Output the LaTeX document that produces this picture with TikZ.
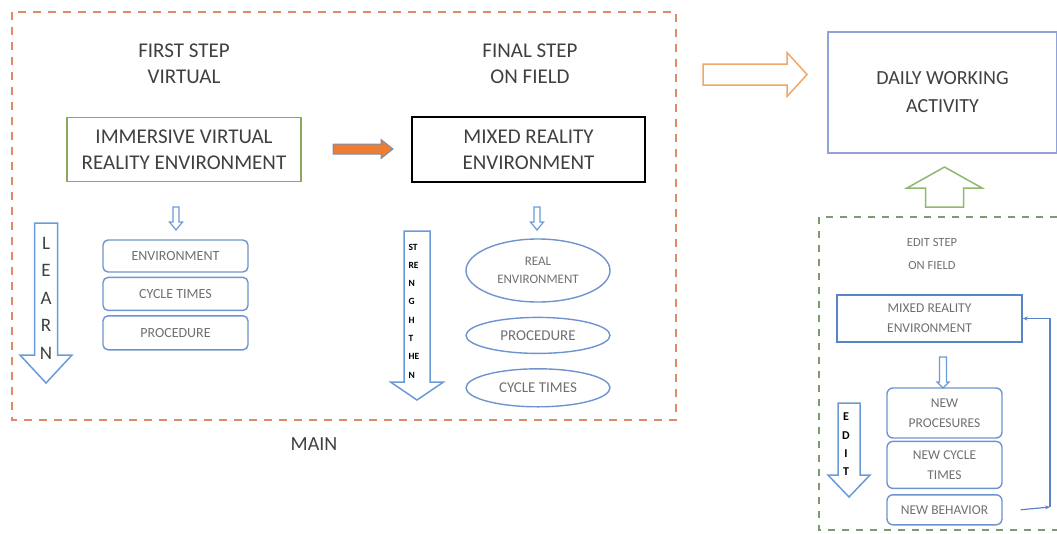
\documentclass[tikz,border=0pt]{standalone}
\usepackage{fontspec}
\setmainfont{Carlito}
\usetikzlibrary{arrows.meta,positioning,shapes.geometric}

\definecolor{mainorange}{HTML}{E3866A}
\definecolor{ivrgreen}{HTML}{8CA85A}
\definecolor{arrowblue}{HTML}{6A9BD8}
\definecolor{itemblue}{HTML}{6F93CF}
\definecolor{dwablue}{HTML}{8FA3D9}
\definecolor{mrblue}{HTML}{5A84C6}
\definecolor{editgreen}{HTML}{7F9A70}
\definecolor{orfill}{HTML}{ED7D31}
\definecolor{orborder}{HTML}{7C8DB0}
\definecolor{orline}{HTML}{F0A86A}
\definecolor{upgreen}{HTML}{8FB870}
\definecolor{textgray}{HTML}{404040}
\definecolor{smallgray}{HTML}{707070}

% block arrow, vertical: x, base y, neck y, tip y, half shaft, half head
\newcommand{\vblock}[7][]{%
  \draw[#1] ({#2-#6},#3) -- ({#2+#6},#3) -- ({#2+#6},#4) -- ({#2+#7},#4)
    -- (#2,#5) -- ({#2-#7},#4) -- ({#2-#6},#4) -- cycle;}
% block arrow, horizontal: y, base x, neck x, tip x, half shaft, half head
\newcommand{\hblock}[7][]{%
  \draw[#1] (#3,{#2-#6}) -- (#3,{#2+#6}) -- (#4,{#2+#6}) -- (#4,{#2+#7})
    -- (#5,#2) -- (#4,{#2-#7}) -- (#4,{#2-#6}) -- cycle;}

\tikzset{
  steplabel/.style={align=center, text=textgray, font=\fontsize{21}{26}\selectfont},
  stepbox/.style={draw, line width=1.5pt, minimum width=234pt, minimum height=64pt,
    inner sep=0pt, align=center, text=textgray, font=\fontsize{21}{26}\selectfont},
  itembox/.style={draw=itemblue, rounded corners=5pt, line width=1.4pt, minimum width=145pt,
    inner sep=0pt, align=center, text=smallgray, font=\fontsize{14}{18}\selectfont},
  itemoval/.style={ellipse, draw=itemblue, line width=1.4pt, minimum width=144pt,
    inner sep=0pt, align=center, text=smallgray, font=\fontsize{15}{18}\selectfont},
  editbox/.style={draw=itemblue, rounded corners=6pt, line width=1.4pt, minimum width=115pt,
    inner sep=0pt, align=center, text=smallgray, font=\fontsize{13.5}{20}\selectfont},
  hollow/.style={draw=arrowblue, line width=1.5pt, fill=white, line join=miter},
  mainframe/.style={draw=mainorange, dash pattern=on 8pt off 7pt, line width=1.5pt},
  editframe/.style={draw=editgreen, dash pattern=on 7pt off 7pt, line width=1.8pt},
  fbline/.style={draw=mrblue, line width=1.2pt, -{Stealth[length=5pt,width=4pt]}}
}

\begin{document}
\begin{tikzpicture}[x=1pt,y=-1pt]
  \useasboundingbox (0,0) rectangle (1057,533);

  % main frame
  \draw[mainframe] (12,12) rectangle (676,420);
  \node[font=\fontsize{20}{24}\selectfont, text=textgray] (mainlbl) at (314,444) {MAIN};

  % first step
  \node[steplabel] (first) at (184,64) {FIRST STEP\\VIRTUAL};
  \node[stepbox, draw=ivrgreen] (ivr) at (184,149.5) {IMMERSIVE VIRTUAL\\REALITY ENVIRONMENT};
  \vblock[hollow, line width=1.2pt]{176}{207}{222}{230}{3}{6.5}
  \node[itembox, minimum height=32pt] (env) at (175.5,256) {ENVIRONMENT};
  \node[itembox, minimum height=33pt, below=4pt of env] (cyc) {CYCLE TIMES};
  \node[itembox, minimum height=34pt, below=4pt of cyc] (proc) {PROCEDURE};
  \vblock[hollow]{46}{223}{355}{383}{11.5}{26}
  \node[align=center, text=textgray, font=\fontsize{19}{27.5}\selectfont] (learn) at (46,298)
    {L\\E\\A\\R\\N};

  % orange arrow between steps
  \hblock[fill=orfill, draw=orborder, line width=1pt]{149}{333}{381}{393}{5}{9.5}

  % final step
  \node[steplabel] (final) at (530,64) {FINAL STEP\\ON FIELD};
  \node[stepbox, draw=black, minimum width=233pt, minimum height=65pt] (mr) at (528.5,149.5)
    {MIXED REALITY\\ENVIRONMENT};
  \vblock[hollow, line width=1.2pt]{537}{207}{222}{230}{3}{6.5}
  \node[itemoval, minimum height=63pt, font=\fontsize{13}{18}\selectfont] (real) at (538,270.5)
    {REAL\\ENVIRONMENT};
  \node[itemoval, minimum height=36pt, below=14pt of real] (proc2) {PROCEDURE};
  \node[itemoval, minimum height=38pt, below=14pt of proc2] (cyc2) {CYCLE TIMES};
  \vblock[hollow]{417}{231}{382}{400}{13}{26.5}
  \node[anchor=west, align=left, font=\bfseries\fontsize{9.5}{18.3}\selectfont] (stren) at (405,311)
    {ST\\RE\\N\\G\\H\\T\\HE\\N};

  % towards daily work
  \hblock[draw=orline, line width=1.5pt, fill=white]{74.5}{703}{787}{807}{10.5}{22}
  \node[draw=dwablue, line width=1.5pt, minimum width=229pt, minimum height=121pt, inner sep=0pt,
    align=center, text=textgray, font=\fontsize{20}{28}\selectfont] (dwa) at (942.5,92.5)
    {DAILY WORKING\\ACTIVITY};
  \vblock[draw=upgreen, line width=1.5pt, fill=white]{944.5}{207}{188}{167}{19}{37.5}

  % edit step
  \draw[editframe] (1057,217) -- (819,217) -- (819,530) -- (1057,530);
  \node[align=center, text=smallgray, font=\fontsize{12.5}{23}\selectfont] (editlbl) at (932,253.5)
    {EDIT STEP\\ON FIELD};
  \node[draw=mrblue, line width=1.4pt, minimum width=185pt, minimum height=47pt, inner sep=0pt,
    align=center, text=smallgray, font=\fontsize{13.5}{20}\selectfont] (mr2) at (929.5,318.5)
    {MIXED REALITY\\ENVIRONMENT};
  \vblock[hollow, line width=1.2pt]{943}{357}{382}{388}{3.5}{6}
  \node[editbox, minimum height=50pt] (newproc) at (944.5,413) {NEW\\PROCESURES};
  \node[editbox, minimum height=47pt, below=2pt of newproc] (newcyc) {NEW CYCLE\\TIMES};
  \node[editbox, minimum height=30pt, below=5pt of newcyc] (newbeh) {NEW BEHAVIOR};
  \vblock[hollow]{849}{403}{475}{497}{11}{21}
  \node[align=center, font=\bfseries\fontsize{12}{18.3}\selectfont] (edit) at (846,444.5)
    {E\\D\\I\\T};

  % feedback
  \coordinate (fbcorner) at (1050,507);
  \draw[fbline] ([xshift=18pt]newbeh.east) -- (fbcorner);
  \draw[fbline] (fbcorner) |- (mr2.east);
\end{tikzpicture}
\end{document}
